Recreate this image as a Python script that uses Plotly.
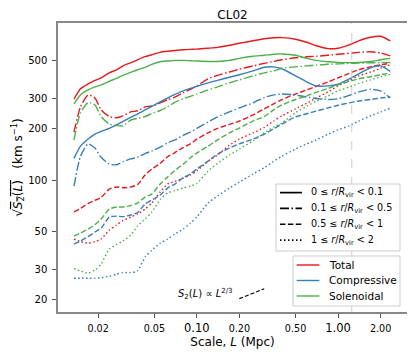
import plotly.graph_objects as go

# Scale L in Mpc (common sampling for all curves)
scale = [0.0135, 0.015, 0.017, 0.019, 0.021, 0.024, 0.027, 0.030, 0.034, 0.038,
         0.043, 0.048, 0.055, 0.062, 0.070, 0.080, 0.090, 0.100, 0.120, 0.140,
         0.170, 0.200, 0.250, 0.300, 0.350, 0.400, 0.500, 0.600, 0.700, 0.850,
         1.000, 1.200, 1.400, 1.700, 2.000, 2.340]

# sqrt(S2(L)) in km/s, by component and radial shell
total_r01 = [298, 343, 367, 385, 398, 426, 444, 468, 488, 508, 530, 544, 562, 570, 576, 582, 585, 587,
             594, 601, 618, 636, 657, 675, 684, 686, 671, 644, 614, 591, 594, 622, 656, 689, 698, 656]
total_r05 = [191, 269, 316, 303, 258, 236, 232, 238, 251, 255, 269, 272, 284, 296, 307, 325, 341, 357,
             393, 412, 431, 447, 468, 484, 497, 508, 522, 529, 533, 540, 548, 555, 562, 566, 558, 536]
total_r1 = [65, 68, 73, 76, 79, 88.5, 91, 90, 91, 94, 107, 116, 125, 137, 145, 155, 163, 174,
            189, 201, 212, 222, 241, 262, 280, 297, 320, 338, 355, 377, 398, 423, 444, 462, 475, 484]
total_r2 = [45, 43.5, 42.6, 43.5, 45, 50.8, 54.4, 57.8, 60.6, 63.2, 67.5, 73.2, 85, 94.7, 98, 102.7, 107, 113,
            129, 140, 160, 174, 189, 204, 222, 238, 262, 282, 303, 329, 357, 385, 409, 431, 453, 475]

comp_r01 = [134, 158, 174, 186, 193, 201, 211, 221, 233, 244, 258, 271, 288, 303, 318, 334, 345, 355,
            372, 385, 401, 415, 437, 459, 462, 450, 409, 377, 357, 357, 365, 393, 420, 456, 468, 434]
comp_r05 = [92, 138, 163, 154, 136, 124, 123, 128, 133, 136, 143, 148, 156, 165, 172, 183, 191, 201,
            219, 235, 251, 265, 284, 305, 316, 320, 316, 307, 301, 297, 300, 314, 329, 341, 334, 303]
comp_r1 = [42, 43.8, 46.5, 49.5, 52.2, 60.6, 61.4, 61, 62.3, 64.4, 72.2, 76.3, 81.6, 89.7, 94.7, 103, 108.5, 116,
           129, 142, 154, 163, 174, 186, 200, 213, 235, 245, 254, 265, 275, 284, 291, 297, 303, 307]
comp_r2 = [26.5, 26.5, 26.5, 26.5, 26.7, 27.2, 28, 28.6, 28.6, 29.2, 35.3, 38.7, 42.6, 45, 48.2, 51.5, 55.8, 60.6,
           73.2, 80.5, 89.7, 97.3, 108.5, 118, 129, 138, 152, 163, 172, 186, 197, 208, 222, 238, 251, 264]

sol_r01 = [280, 316, 338, 352, 362, 380, 395, 412, 429, 444, 459, 478, 495, 500, 504, 504, 502, 500,
           497, 497, 504, 518, 533, 540, 548, 550, 540, 518, 504, 495, 491, 489, 491, 497, 508, 518]
sol_r05 = [172, 248, 285, 276, 236, 213, 209, 208, 225, 230, 236, 246, 256, 269, 286, 300, 310, 320,
           338, 352, 372, 387, 409, 426, 437, 453, 462, 468, 473, 478, 481, 484, 486, 488, 489, 491]
sol_r1 = [46.8, 48.8, 51.5, 54.7, 59, 67.5, 69.4, 69.4, 70.8, 73.2, 79.4, 82.7, 94.7, 104, 113.7, 124, 135, 144,
          158, 172, 189, 202, 222, 236, 258, 276, 297, 312, 327, 345, 362, 380, 393, 404, 415, 424]
sol_r2 = [30.2, 29.2, 28.4, 29.6, 32.1, 39.3, 41.8, 43.8, 47.5, 53.6, 59, 64.9, 76.7, 83.9, 86.7, 89.7, 92.2, 95.4,
          113, 125, 140, 152, 170, 189, 205, 216, 249, 271, 290, 312, 334, 352, 369, 387, 404, 417]

shell_labels = ["0 ≤ <i>r</i>/<i>R</i><sub>vir</sub> &lt; 0.1",
                "0.1 ≤ <i>r</i>/<i>R</i><sub>vir</sub> &lt; 0.5",
                "0.5 ≤ <i>r</i>/<i>R</i><sub>vir</sub> &lt; 1",
                "1 ≤ <i>r</i>/<i>R</i><sub>vir</sub> &lt; 2"]
component_labels = ["Total", "Compressive", "Solenoidal"]

# reference slope S2 ~ L^(2/3)
ref_x = [0.2, 0.3]
ref_y = [20.1, 23.0]
r_vir_mpc = 1.25

colors = ["#e41a1c", "#377eb8", "#4daf4a"]
dashes = ["solid", "9px,2.5px,1.5px,2.5px", "5.5px,2.4px", "1.5px,2.5px"]

series = [
    [total_r01, total_r05, total_r1, total_r2],
    [comp_r01, comp_r05, comp_r1, comp_r2],
    [sol_r01, sol_r05, sol_r1, sol_r2],
]

fig = go.Figure()

for c, comp in enumerate(series):
    for s, ys in enumerate(comp):
        fig.add_trace(go.Scatter(
            x=scale, y=ys, mode="lines", showlegend=False,
            line=dict(color=colors[c], width=1.4, dash=dashes[s], shape="spline", smoothing=0.6),
        ))

fig.add_trace(go.Scatter(x=ref_x, y=ref_y, mode="lines", showlegend=False,
                         line=dict(color="black", width=1.2, dash="4px,2px")))

fig.add_vline(x=r_vir_mpc, line=dict(color="#cccccc", width=1, dash="dash"))

fig.add_annotation(x=-0.94, y=1.33, xref="x", yref="y", showarrow=False,
                   text="<i>S</i><sub>2</sub>(<i>L</i>) ∝ <i>L</i><sup>2/3</sup>",
                   font=dict(size=10, color="black"))

# two hand-built legends (plotly's legend rows are too tall for this panel)
def legend_box(x0, x1, y0, y1):
    fig.add_shape(type="rect", xref="paper", yref="paper", x0=x0, x1=x1, y0=y0, y1=y1,
                  fillcolor="rgba(255,255,255,0.85)", line=dict(color="#cccccc", width=1), layer="above")

def legend_row(y, x0, x1, xt, label, color, dash, width, size):
    fig.add_shape(type="line", xref="paper", yref="paper", x0=x0, x1=x1, y0=y, y1=y,
                  line=dict(color=color, width=width, dash=dash), layer="above")
    fig.add_annotation(x=xt, y=y, xref="paper", yref="paper", text=label, showarrow=False,
                       xanchor="left", yanchor="middle", font=dict(size=size, color="black"))

legend_box(0.6246, 0.980, 0.2111, 0.4429)
for s, lab in enumerate(shell_labels):
    legend_row(0.4131 - s * 0.0547, 0.636, 0.699, 0.718, lab, "black", dashes[s], 1.7, 9.6)

legend_box(0.6734, 0.980, 0.0208, 0.1938)
for c, lab in enumerate(component_labels):
    legend_row(0.1626 - c * 0.0536, 0.684, 0.749, 0.770, lab, colors[c], "solid", 1.4, 10.5)

axis_common = dict(type="log", showgrid=False, zeroline=False, showline=True, mirror=True,
                   linecolor="#888888", linewidth=1.5, ticks="outside", ticklen=4,
                   tickcolor="#555555", automargin=False, ticklabelstandoff=3)

fig.update_xaxes(**axis_common, range=[-1.983, 0.488], tickfont=dict(size=9.6, color="black"),
                 tickvals=[0.02, 0.05, 0.1, 0.2, 0.5, 1.0, 2.0],
                 ticktext=["0.02", "0.05", "<span style='font-size:11.5px'>0.10</span>", "0.20", "0.50",
                           "<span style='font-size:11.5px'>1.00</span>", "2.00"],
                 title=dict(text="Scale, <i>L</i> (Mpc)", font=dict(size=12, color="black"), standoff=2))
fig.update_yaxes(**axis_common, range=[1.225, 2.922], tickfont=dict(size=10, color="black"),
                 tickvals=[20, 30, 50, 100, 200, 300, 500],
                 ticktext=["20", "30", "50", "100", "200", "300", "500"],
                 title=dict(text="√<span style='text-decoration:overline'><i>S</i><sub>2</sub>(<i>L</i>)</span>   (km s<sup>−1</sup>)",
                            font=dict(size=12, color="black"), standoff=3))

# the page body adds an 8px offset, so the figure is drawn 8px smaller
fig.update_layout(
    width=407, height=348,
    margin=dict(l=50, r=8, t=15, b=44),
    paper_bgcolor="white", plot_bgcolor="white",
    font=dict(family="DejaVu Sans", color="black"),
    title=dict(text="CL02", x=0.5, xref="paper", y=0.98, yanchor="middle", font=dict(size=12)),
    showlegend=False,
)

fig.write_html("out.html")
